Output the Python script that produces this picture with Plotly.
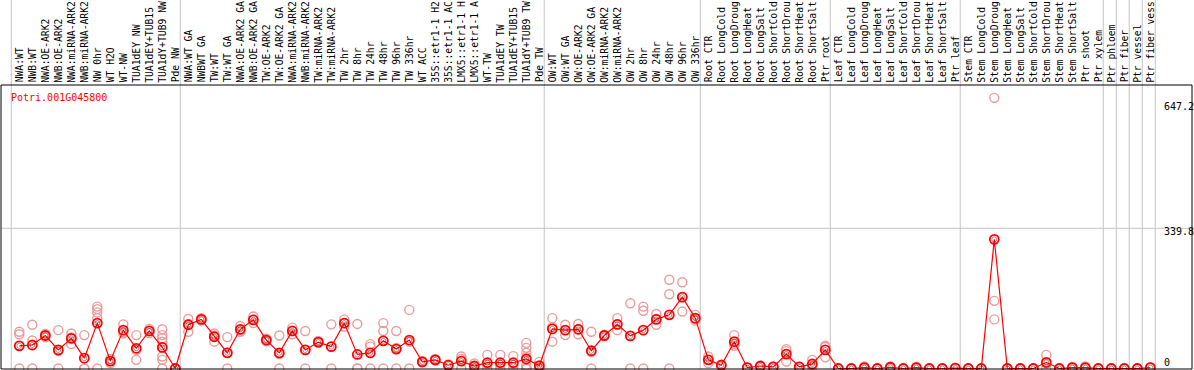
import plotly.graph_objects as go

labels = [
    "NWA:WT", "NWB:WT", "NWA:OE-ARK2", "NWB:OE-ARK2", "NWA:miRNA-ARK2", "NWB:miRNA-ARK2",
    "NW 0hr", "WT H2O", "WT-NW", "TUA1dEY NW", "TUA1dEY+TUB15 NW", "TUA1dY+TUB9 NW", "Pde NW",
    "NWA:WT GA", "NWBWT GA", "TW:WT", "TW:WT GA", "NWA:OE-ARK2 GA", "NWB:OE-ARK2 GA",
    "TW:OE-ARK2", "TW:OE-ARK2 GA", "NWA:miRNA-ARK2 GA", "NWB:miRNA-ARK2 GA", "TW:miRNA-ARK2",
    "TW:miRNA-ARK2 GA", "TW 2hr", "TW 8hr", "TW 24hr", "TW 48hr", "TW 96hr", "TW 336hr", "WT ACC",
    "35S::etr1-1 H2O", "35S::etr1-1 ACC", "LMX5::etr1-1 H2O", "LMX5::etr1-1 ACC", "WT-TW",
    "TUA1dEY TW", "TUA1dEY+TUB15 TW", "TUA1dY+TUB9 TW", "Pde TW",
    "OW:WT", "OW:WT GA", "OW:OE-ARK2", "OW:OE-ARK2 GA", "OW:miRNA-ARK2", "OW:miRNA-ARK2 GA",
    "OW 2hr", "OW 8hr", "OW 24hr", "OW 48hr", "OW 96hr", "OW 336hr",
    "Root CTR", "Root LongCold", "Root LongDrought", "Root LongHeat", "Root LongSalt",
    "Root ShortCold", "Root ShortDrought", "Root ShortHeat", "Root ShortSalt", "Ptr root",
    "Leaf CTR", "Leaf LongCold", "Leaf LongDrought", "Leaf LongHeat", "Leaf LongSalt",
    "Leaf ShortCold", "Leaf ShortDrought", "Leaf ShortHeat", "Leaf ShortSalt", "Ptr leaf",
    "Stem CTR", "Stem LongCold", "Stem LongDrought", "Stem LongHeat", "Stem LongSalt",
    "Stem ShortCold", "Stem ShortDrought", "Stem ShortHeat", "Stem ShortSalt", "Ptr shoot",
    "Ptr xylem", "Ptr phloem", "Ptr fiber", "Ptr vessel", "Ptr fiber vessel",
]

means = [
    55, 57, 80, 45, 73, 25, 110, 18, 93, 49, 91, 51, 0,
    106, 119, 77, 38, 95, 118, 69, 38, 91, 45, 64, 53, 110, 34, 38, 67, 47, 69,
    16, 21, 8, 18, 6, 14, 14, 14, 23, 7,
    96, 93, 95, 43, 80, 107, 79, 93, 119, 130, 173, 122,
    21, 8, 65, 2, 6, 4, 35, 4, 11, 45,
    0, 0, 2, 0, 3, 0, 2, 0, 0, 1,
    0, 0, 313, 0, 0, 0, 15, 0, 2, 2, 0,
    0, 0, 0, 2,
]

replicates = [
    [89, 83, 0], [106, 68, 0], [84, 80, 76], [93, 42, 0], [85, 75, 59], [81, 0, 0],
    [150, 144, 136, 122, 0], [23, 18, 13], [107, 88, 85], [81, 45, 21], [96, 91, 86],
    [95, 81, 73, 65, 52, 29, 21, 0], [0, 0, 0],
    [120, 108, 89], [122, 119, 116], [85, 80, 65], [76, 38, 0], [103, 93, 89], [126, 118, 110],
    [72, 69, 66], [80, 35, 0], [99, 91, 83], [91, 45, 0], [67, 63, 62], [107, 53, 0],
    [119, 110, 101], [108, 0, 0], [59, 53, 0], [110, 91, 0], [91, 50, 0], [142, 65, 0],
    [18, 16, 15], [23, 21, 19], [10, 8, 7], [29, 23, 0], [12, 6, 0], [33, 10, 0], [33, 9, 0],
    [30, 10, 2], [62, 50, 38, 28, 8, 0, 0, 0], [16, 5, 0],
    [122, 100, 65], [106, 93, 81], [108, 95, 83], [89, 40, 0], [82, 80, 78], [122, 107, 93],
    [158, 79, 0], [150, 140, 0], [132, 120, 106], [215, 180, 0], [209, 173, 138], [130, 120, 116],
    [29, 21, 13], [10, 8, 7], [81, 60, 55], [2, 2, 2], [6, 6, 5], [5, 4, 3], [47, 42, 17],
    [4, 4, 4], [21, 8, 4], [55, 52, 27],
    [0, 0, 0], [0, 0, 0], [5, 1, 0], [0, 0, 0], [5, 3, 1], [0, 0, 0], [4, 2, 0], [0, 0, 0],
    [0, 0, 0], [2, 1, 0],
    [0, 0, 0], [0, 0, 0], [656, 164, 119], [0, 0, 0], [0, 0, 0], [0, 0, 0], [33, 12, 0],
    [0, 0, 0], [4, 2, 0], [5, 1, 0], [0, 0, 0],
    [0, 0, 0], [0, 0, 0], [0, 0, 0], [3, 2, 1],
]

group_starts = [0, 13, 41, 53, 63, 73, 84, 85, 86, 87, 88]
y_tick_values = [647.2, 339.8, 0]
y_tick_labels = ["647.2", "339.8", "0"]
gene_id = "Potri.001G045800"
label_max_chars = 14

W, H = 1194, 370
ML, MR, MT, MB = 1, 2, 85, 1
plot_w = W - ML - MR
plot_h = H - MT - MB
px_per_col = 13.0
x0 = -(19.3 - ML) / px_per_col
x1 = x0 + plot_w / px_per_col
k = 0.4126
y_zero_px = 368.5
y0 = -(H - MB - y_zero_px) / k
y1 = (y_zero_px - MT) / k

n = len(labels)
xs = list(range(n))

rep_x, rep_y = [], []
for i, reps in enumerate(replicates):
    for v in reps:
        rep_x.append(i)
        rep_y.append(v)

MONO = "DejaVu Sans Mono"
fig = go.Figure()
fig.add_trace(go.Scatter(
    x=rep_x, y=rep_y, mode="markers",
    marker=dict(symbol="circle-open", size=9, color="#EA9C9C", line=dict(width=1.4, color="#EA9C9C")),
    hoverinfo="skip", showlegend=False, cliponaxis=False,
))
fig.add_trace(go.Scatter(
    x=xs, y=means, mode="lines+markers",
    line=dict(color="#FF0000", width=1.2),
    marker=dict(symbol="circle-open", size=9, color="#FF0000", line=dict(width=1.8, color="#FF0000")),
    showlegend=False, cliponaxis=False,
))
fig.add_trace(go.Scatter(
    x=xs, y=means, mode="markers",
    marker=dict(symbol="circle-open", size=5, color="rgba(70,0,0,0.45)", line=dict(width=1, color="rgba(70,0,0,0.45)")),
    hoverinfo="skip", showlegend=False, cliponaxis=False,
))

shapes = []
top_paper = 1 + MT / plot_h
for g in group_starts:
    shapes.append(dict(type="line", xref="x", yref="paper", x0=g - 0.62, x1=g - 0.62,
                       y0=0, y1=top_paper, line=dict(color="#C4C4C4", width=1), layer="below"))
shapes.append(dict(type="line", xref="paper", yref="y", x0=0, x1=1,
                   y0=y_tick_values[1], y1=y_tick_values[1], line=dict(color="#C4C4C4", width=1), layer="below"))
shapes.append(dict(type="rect", xref="paper", yref="paper", x0=0, x1=1, y0=0, y1=1,
                   line=dict(color="black", width=1)))

annotations = []
label_bottom_px = 83.5
for i, lab in enumerate(labels):
    annotations.append(dict(
        x=i, xref="x", y=1 + (MT - label_bottom_px) / plot_h, yref="paper",
        text=lab[:label_max_chars], textangle=-90, showarrow=False, xanchor="center", yanchor="bottom",
        font=dict(family=MONO, size=9.7, color="black"), borderpad=0,
    ))

ylab_centers = [106.7, 231.7, 362]
for txt, cy in zip(y_tick_labels, ylab_centers):
    annotations.append(dict(
        x=(1163 - ML) / plot_w, xref="paper", y=(H - MB - cy) / plot_h, yref="paper",
        text=txt, showarrow=False, xanchor="left", yanchor="middle",
        font=dict(family=MONO, size=10, color="black"), borderpad=0,
    ))

annotations.append(dict(
    x=(10 - ML) / plot_w, xref="paper", y=(H - MB - 97) / plot_h, yref="paper",
    text=gene_id, showarrow=False, xanchor="left", yanchor="middle",
    font=dict(family=MONO, size=10, color="#FF0000"), borderpad=0,
))

fig.update_layout(
    width=W, height=H,
    margin=dict(l=ML, r=MR, t=MT, b=MB, pad=0),
    paper_bgcolor="white", plot_bgcolor="white",
    xaxis=dict(range=[x0, x1], showgrid=False, zeroline=False, showticklabels=False, ticks="", fixedrange=True),
    yaxis=dict(range=[y0, y1], showgrid=False, zeroline=False, showticklabels=False, ticks="", fixedrange=True),
    shapes=shapes, annotations=annotations,
    showlegend=False,
)

fig.write_html(
    "out.html",
    config={"displayModeBar": False},
    post_script="document.body.style.margin='0';document.body.style.padding='0';document.body.style.overflow='hidden';",
)
